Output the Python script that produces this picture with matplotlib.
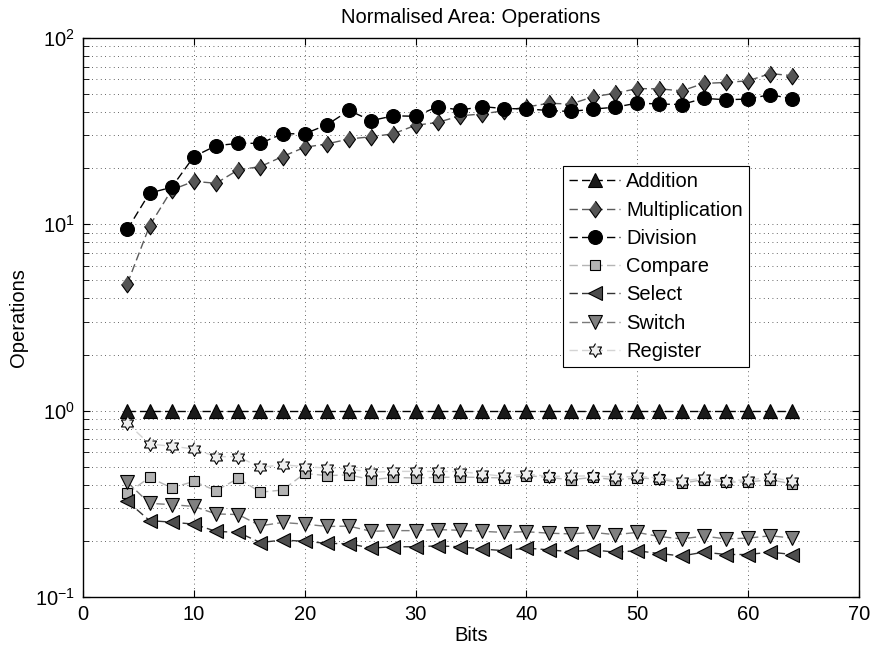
import numpy as np
import matplotlib
matplotlib.use("Agg")
import matplotlib.pyplot as plt
from matplotlib.ticker import LogLocator, NullFormatter

plt.rcParams['font.family'] = ['Liberation Sans', 'DejaVu Sans']
plt.rcParams['mathtext.fontset'] = 'custom'
plt.rcParams['mathtext.rm'] = 'Liberation Sans'

bits = [4, 6, 8, 10, 12, 14, 16, 18, 20, 22, 24, 26, 28, 30, 32, 34,
        36, 38, 40, 42, 44, 46, 48, 50, 52, 54, 56, 58, 60, 62, 64]

addition = [1.0, 1.0, 1.0, 1.0, 1.0, 1.0, 1.0, 1.0, 1.0, 1.0, 1.0, 1.0, 1.0, 1.0, 1.0, 1.0,
            1.0, 1.0, 1.0, 1.0, 1.0, 1.0, 1.0, 1.0, 1.0, 1.0, 1.0, 1.0, 1.0, 1.0, 1.0]
multiplication = [4.8, 9.8, 15.3, 17.0, 16.6, 19.6, 20.4, 23.1, 25.9, 27.0, 28.7, 29.5, 30.6, 34.0, 35.2, 38.2,
                  39.1, 40.7, 42.6, 44.6, 44.2, 48.3, 50.5, 53.5, 53.3, 52.0, 57.0, 57.7, 58.9, 64.4, 62.7]
division = [9.4, 14.7, 15.8, 23.1, 26.4, 27.2, 27.2, 30.6, 30.6, 34.2, 40.8, 36.0, 38.2, 38.0, 42.8, 41.0,
            42.8, 41.8, 41.6, 40.8, 40.3, 41.5, 42.5, 44.7, 44.2, 43.9, 47.4, 46.6, 47.0, 49.7, 47.0]
compare = [0.36, 0.438, 0.385, 0.417, 0.372, 0.433, 0.365, 0.375, 0.46, 0.448, 0.452, 0.426, 0.438, 0.435, 0.438, 0.44,
           0.438, 0.435, 0.448, 0.438, 0.426, 0.438, 0.426, 0.435, 0.43, 0.408, 0.426, 0.414, 0.414, 0.426, 0.404]
select = [0.326, 0.257, 0.252, 0.246, 0.225, 0.222, 0.196, 0.202, 0.199, 0.194, 0.193, 0.183, 0.186, 0.186, 0.188, 0.186,
          0.181, 0.177, 0.183, 0.179, 0.175, 0.179, 0.174, 0.177, 0.171, 0.166, 0.174, 0.169, 0.169, 0.174, 0.169]
switch = [0.413, 0.318, 0.313, 0.306, 0.279, 0.277, 0.241, 0.251, 0.246, 0.239, 0.24, 0.225, 0.227, 0.227, 0.23, 0.228,
          0.225, 0.222, 0.224, 0.22, 0.218, 0.222, 0.216, 0.222, 0.211, 0.205, 0.212, 0.205, 0.207, 0.213, 0.207]
register = [0.855, 0.662, 0.644, 0.623, 0.566, 0.566, 0.496, 0.513, 0.50, 0.492, 0.486, 0.467, 0.472, 0.472, 0.472, 0.471,
            0.457, 0.444, 0.457, 0.444, 0.444, 0.448, 0.439, 0.444, 0.435, 0.418, 0.435, 0.421, 0.425, 0.439, 0.418]

# six-pointed star and a narrow diamond, like the MATLAB markers
ang = np.deg2rad(90 + 30 * np.arange(12))
rad = np.where(np.arange(12) % 2 == 0, 1.0, 1 / np.sqrt(3))
hexagram = list(zip(rad * np.cos(ang), rad * np.sin(ang)))
diamond = [(0, 1), (0.72, 0), (0, -1), (-0.72, 0)]

series = [
    ("Addition", addition, "^", 10.5, "#1a1a1a", "#000000"),
    ("Multiplication", multiplication, diamond, 12, "#555555", "#5a5a5a"),
    ("Division", division, "o", 10, "#000000", "#000000"),
    ("Compare", compare, "s", 7.5, "#b3b3b3", "#b5b5b5"),
    ("Select", select, "<", 10.5, "#4d4d4d", "#333333"),
    ("Switch", switch, "v", 10.5, "#808080", "#7a7a7a"),
    ("Register", register, hexagram, 10, "#eeeeee", "#d4d4d4"),
]

FS = 14.5

fig = plt.figure(figsize=(8.72, 6.52), dpi=100)
ax = fig.add_axes([0.0952, 0.0844, 0.8899, 0.8574])

for name, vals, mk, ms, face, linecol in series:
    ax.plot(bits, vals, linestyle=(0, (6, 3)), lw=1.0, color=linecol,
            marker=mk, markersize=ms, markerfacecolor=face,
            markeredgecolor="black", markeredgewidth=0.8, label=name)

ax.set_yscale("log")
ax.set_xlim(0, 70)
ax.set_ylim(0.1, 100)
ax.set_xticks([0, 10, 20, 30, 40, 50, 60, 70])
ax.yaxis.set_major_locator(LogLocator(base=10, numticks=10))
ax.yaxis.set_minor_locator(LogLocator(base=10, subs=np.arange(2, 10), numticks=20))
ax.yaxis.set_minor_formatter(NullFormatter())

ax.tick_params(which="both", direction="in", top=True, right=True, labelsize=FS)
ax.tick_params(which="major", length=5, width=0.8)
ax.tick_params(which="minor", length=4, width=0.6)
ax.tick_params(axis="x", pad=6)
ax.tick_params(axis="y", pad=6)

grid_style = dict(color="#333333", linestyle=(0, (1, 4.2)), linewidth=0.6)
ax.grid(True, which="major", axis="both", **grid_style)
ax.grid(True, which="minor", axis="y", **grid_style)
ax.set_axisbelow(True)

for sp in ax.spines.values():
    sp.set_linewidth(1.0)

ax.set_title("Normalised Area: Operations", fontsize=FS, pad=11)
ax.set_xlabel("Bits", fontsize=FS, labelpad=1)
ax.set_ylabel("Operations", fontsize=FS, labelpad=5)

leg = ax.legend(loc="upper left", bbox_to_anchor=(0.6186, 0.771), borderaxespad=0,
                fontsize=FS, numpoints=1, handlelength=2.5, handletextpad=0.3,
                labelspacing=0.46, borderpad=0.32, fancybox=False, framealpha=1,
                edgecolor="black")
leg.get_frame().set_linewidth(0.8)

fig.savefig("out.png", dpi=100)
